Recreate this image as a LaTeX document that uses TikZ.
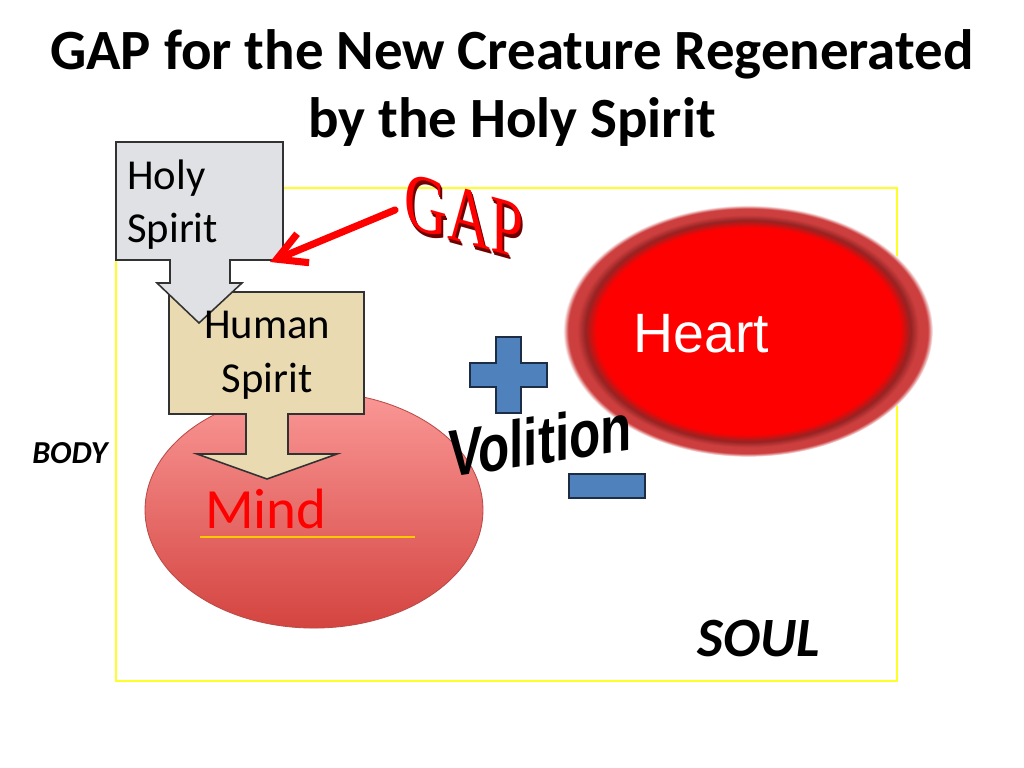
\documentclass[tikz,border=0pt]{standalone}
\usepackage{fontspec}
\setmainfont{Carlito}
\newfontfamily\arialfont{Liberation Sans}
\newfontfamily\timesfont{Liberation Serif}
\usetikzlibrary{arrows.meta,shapes.geometric,calc,positioning}
\definecolor{boxyellow}{RGB}{255,255,40}
\definecolor{marble}{RGB}{224,225,228}
\definecolor{parchment}{RGB}{233,218,178}
\definecolor{edgegray}{RGB}{50,50,50}
\definecolor{mindtop}{RGB}{250,152,150}
\definecolor{mindbot}{RGB}{212,68,64}
\definecolor{mindedge}{RGB}{185,75,72}
\definecolor{heartred}{RGB}{255,0,0}
\definecolor{heartdark}{RGB}{150,35,35}
\definecolor{heartring}{RGB}{205,62,62}
\definecolor{signblue}{RGB}{79,129,189}
\definecolor{signedge}{RGB}{30,45,70}
\definecolor{gapdark}{RGB}{110,0,0}
\definecolor{lineorange}{RGB}{255,200,0}
\pgfdeclareradialshading{heartglow}{\pgfpointorigin}{color(0bp)=(heartred);
  color(20.5bp)=(heartred);color(22bp)=(heartdark);color(23.1bp)=(heartring);
  color(24.3bp)=(heartring);color(25bp)=(white);color(50bp)=(white)}
\tikzstyle{headline}=[font=\bfseries\fontsize{40}{48}\selectfont, align=center,
  anchor=north, inner sep=0pt]
\tikzstyle{spirit}=[font=\fontsize{30}{37}\selectfont, inner sep=0pt]
\tikzstyle{sidetag}=[font=\bfseries\itshape, inner sep=0pt, anchor=base west]
\tikzstyle{soulbox}=[draw=boxyellow, line width=1pt]
\tikzstyle{callout}=[draw=edgegray, line width=1.1pt, line join=miter]
\tikzstyle{holy}=[callout, fill=marble]
\tikzstyle{human}=[callout, fill=parchment]
\tikzstyle{mindball}=[ellipse, draw=mindedge, line width=0.6pt, top color=mindtop,
  bottom color=mindbot, minimum width=237.6pt, minimum height=166pt, inner sep=0pt]
\tikzstyle{heartball}=[ellipse, shade, shading=heartglow, minimum width=260pt,
  minimum height=177pt, inner sep=0pt]
\tikzstyle{signbar}=[draw=signedge, fill=signblue, line width=0.8pt]
\tikzstyle{gapword}=[font=\timesfont\fontsize{58}{58}\selectfont, xscale=0.72,
  yslant=-0.2, inner sep=0pt]
\tikzstyle{gaparrow}=[draw=red, line width=5pt, line cap=round, line join=round,
  -{Straight Barb[length=20pt,width=22pt]}]
\tikzstyle{volition}=[font=\arialfont\bfseries\fontsize{36}{36}\selectfont,
  yslant=0.15, yscale=1.3, inner sep=0pt]
\newcommand{\extruded}[1]{\rlap{\kern2.2pt\raisebox{-2.2pt}{\textcolor{gapdark}{#1}}}%
  \rlap{\kern1.1pt\raisebox{-1.1pt}{\textcolor{gapdark}{#1}}}\textcolor{red}{#1}}

\begin{document}
\begin{tikzpicture}[x=0.703125pt, y=-0.703125pt]
  \fill [white] (0,0) rectangle (1024,768);
  \useasboundingbox (0,0) rectangle (1024,768);

  % Title
  \node [headline] (title) at (512,29)
    {GAP for the New Creature Regenerated\\by the Holy Spirit};

  % Soul frame
  \draw [soulbox] (116,188) rectangle (897,681);
  \node [sidetag, font=\bfseries\itshape\fontsize{22.5}{22.5}\selectfont] (body) at (32,463) {BODY};
  \node [sidetag, font=\bfseries\itshape\fontsize{39}{39}\selectfont] (soul) at (697,656) {SOUL};

  % Mind
  \node [mindball] (mind) at (314,510) {};
  \node [anchor=base west, inner sep=0pt, text=red, font=\fontsize{40}{40}\selectfont]
    (mindtext) at (205,528) {Mind};
  \draw [draw=lineorange, line width=1pt] (200,537) -- (415,537);

  % Human spirit arrow box
  \path [human] (169,292) -- (364,292) -- (364,414) -- (288,414) -- (288,454)
    -- (337,454) -- (267,479) -- (197,454) -- (246,454) -- (246,414)
    -- (169,414) -- cycle;
  % Holy spirit arrow box
  \path [holy] (116,142) -- (283,142) -- (283,260) -- (230,260) -- (230,283)
    -- (242,283) -- (199,323) -- (157,283) -- (170,283) -- (170,260)
    -- (116,260) -- cycle;
  \node [spirit, anchor=north west, align=left] (holytext) at (127,160) {Holy\\Spirit};
  \node [spirit, anchor=north, align=center, font=\fontsize{30}{38}\selectfont]
    (humantext) at (267,311) {Human\\Spirit};

  % Heart
  \node [heartball] (heart) at (748,331) {};
  \node [anchor=base west, inner sep=0pt, text=white,
    font=\arialfont\fontsize{39}{39}\selectfont] (hearttext) at (633,352) {Heart};

  % GAP
  \node [gapword] (gap) at (464,218) {\extruded{GAP}};
  \coordinate (gaptail) at (395,210);
  \coordinate (gapmark) at (270,262);
  \draw [gaparrow] (gaptail) -- (gapmark);

  % Volition signs
  \path [signbar] (496,337) -- (521,337) -- (521,363) -- (547,363) -- (547,387)
    -- (521,387) -- (521,413) -- (496,413) -- (496,387) -- (470,387)
    -- (470,363) -- (496,363) -- cycle;
  \path [signbar] (569,474) rectangle (645,498);
  \node [volition] (volition) at (540,440) {Volition};

\end{tikzpicture}
\end{document}
